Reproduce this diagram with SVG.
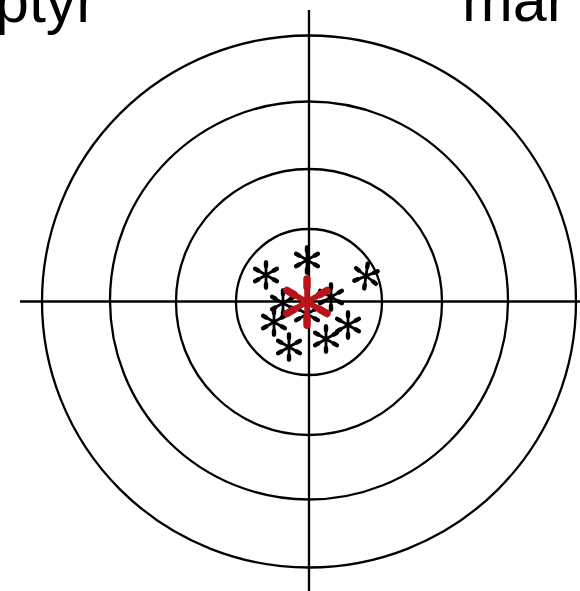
<svg xmlns="http://www.w3.org/2000/svg" width="580" height="591" viewBox="0 0 580 591">
<style>
.ring{fill:none;stroke:#000;stroke-width:2.3}
.axis{stroke:#000;stroke-width:2.3}
.lbl{font-family:"Liberation Sans",Arial,sans-serif;font-size:61px;fill:#000}
.ast{stroke:#000;stroke-width:2.8;stroke-linecap:round;fill:none}
.astr{stroke:#b8141a;stroke-width:5.5;stroke-linecap:round;fill:none}
</style>
<defs>
<g id="star">
<path class="ast" d="M0,-13V13M-11.3,-6.5L11.3,6.5M-11.3,6.5L11.3,-6.5"/>
<path d="M0,-12.5V-9M0,12.5V9M-10.8,-6.2L-7.8,-4.5M10.8,6.2L7.8,4.5M-10.8,6.2L-7.8,4.5M10.8,-6.2L7.8,-4.5" stroke="#000" stroke-width="4.4" stroke-linecap="round"/>
</g>
</defs>
<rect width="580" height="591" fill="#fff"/>
<g id="labels">
<text class="lbl" x="-5" y="22">ptyr</text>
<text class="lbl" x="462" y="21">mar</text>
</g>
<g id="target">
<ellipse class="ring" cx="309" cy="301.5" rx="267" ry="266"/>
<ellipse class="ring" cx="309" cy="300.5" rx="199" ry="199"/>
<ellipse class="ring" cx="309" cy="302" rx="133" ry="133"/>
<ellipse class="ring" cx="309" cy="302" rx="73" ry="73"/>
</g>
<g id="connectors">
<line class="axis" x1="309" y1="10" x2="309" y2="591"/>
<line class="axis" x1="20" y1="301.5" x2="580" y2="301.5"/>
</g>
<g id="shots">
<use href="#star" x="266" y="275"/>
<use href="#star" x="307" y="260"/>
<use href="#star" transform="translate(366,276) rotate(8)"/>
<use href="#star" x="283" y="303"/>
<use href="#star" x="331" y="297"/>
<use href="#star" x="274" y="322"/>
<use href="#star" x="307" y="314"/>
<use href="#star" x="348" y="325"/>
<use href="#star" x="326" y="339"/>
<use href="#star" x="289" y="347"/>
</g>
<g id="mean">
<path class="astr" d="M307,279V325M287,290.5L327,313.5M287,313.5L327,290.5"/>
<path d="M307,279V287M307,325V317M287,290.5L294,294.5M327,313.5L320,309.5M287,313.5L294,309.5M327,290.5L320,294.5" stroke="#b8141a" stroke-width="7.5" stroke-linecap="round"/>
</g>
</svg>
